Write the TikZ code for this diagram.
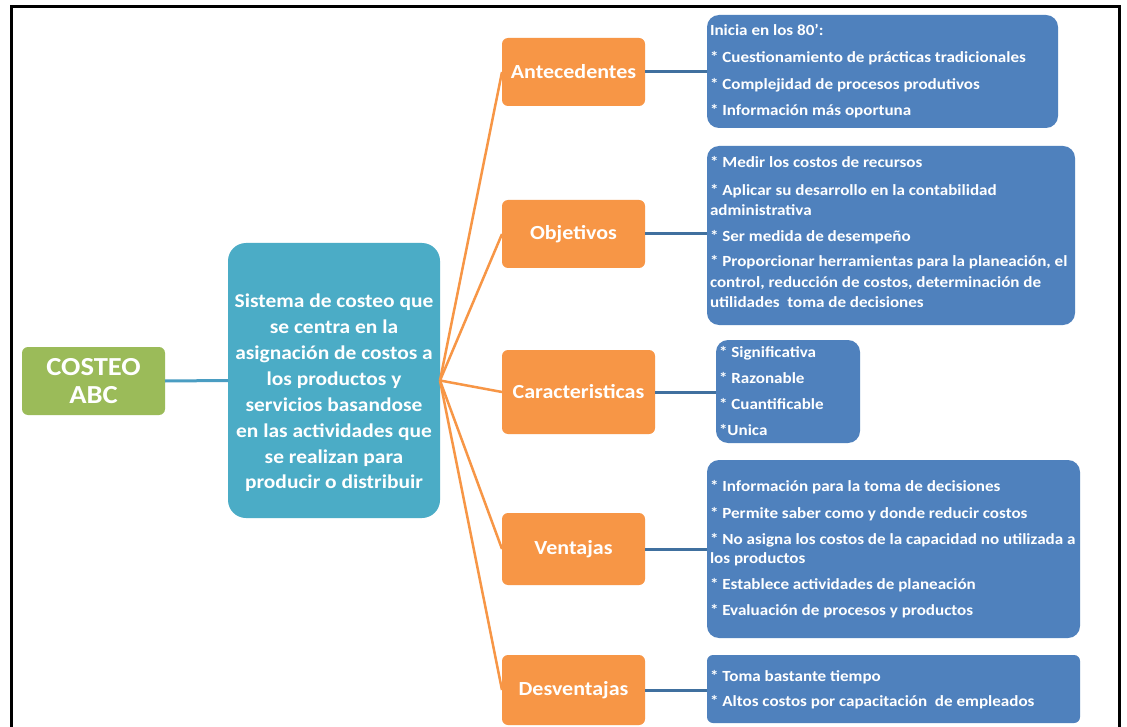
\documentclass[tikz,border=0pt]{standalone}
\usepackage{fontspec}
\setmainfont{Carlito}[FakeStretch=1.1]
\definecolor{cgreen}{HTML}{9BBB59}
\definecolor{cteal}{HTML}{4BACC6}
\definecolor{cteall}{HTML}{4A9DC2}
\definecolor{corange}{HTML}{F79646}
\definecolor{cblue}{HTML}{4F81BD}
\definecolor{cbluel}{HTML}{40709F}
\begin{document}
\begin{tikzpicture}[x=1pt,y=-1pt,
  every node/.style={inner sep=0pt, outer sep=0pt},
  rootbox/.style={fill=cgreen, rounded corners=6pt, text=white, align=center,
    font=\fontsize{26}{28}\selectfont\bfseries},
  defbox/.style={fill=cteal, rounded corners=18pt},
  deftext/.style={text=white, align=center, font=\fontsize{19.5}{25.9}\selectfont\bfseries},
  topicbox/.style={fill=corange, rounded corners=6pt, text=white,
    font=\fontsize{20}{22}\selectfont\bfseries},
  detailbox/.style={fill=cblue, rounded corners=12pt},
  detail/.style={text=white, anchor=base west, font=\fontsize{15.5}{18}\selectfont\bfseries},
  branch/.style={draw=corange, line width=2.5pt},
  link/.style={draw=cbluel, line width=3pt},
  rootlink/.style={draw=cteall, line width=3pt}
]
\useasboundingbox (0,0) rectangle (1127,727);
\fill[white] (0,0) rectangle (1127,727);
% frame
\draw[line width=3pt] (11.5,727) -- (11.5,7) -- (1119.5,7) -- (1119.5,727);

% root and definition
\node[rootbox, minimum width=143, minimum height=68] (root) at (93.5,381) {COSTEO\\ABC};
\node[defbox, minimum width=212, minimum height=275] (def) at (334,380.5) {};
\node[deftext] (deftxt) at (334,393) {Sistema de costeo que\\se centra en la\\asignaci\'on de costos a\\los productos y\\servicios basandose\\en las actividades que\\se realizan para\\producir o distribuir};

% topics
\node[topicbox, minimum width=143, minimum height=68] (ant) at (573.5,72) {Antecedentes};
\node[topicbox, minimum width=143, minimum height=68] (obj) at (573.5,234) {Objetivos};
\node[topicbox, minimum width=153, minimum height=84] (car) at (578.5,392) {Caracteristicas};
\node[topicbox, minimum width=143, minimum height=72] (ven) at (573.5,549) {Ventajas};
\node[topicbox, minimum width=143, minimum height=70] (des) at (573.5,690) {Desventajas};

% detail boxes
\node[detailbox, minimum width=351, minimum height=113] (antd) at (882.5,71.5) {};
\node[detailbox, minimum width=368, minimum height=179] (objd) at (891,235.5) {};
\node[detailbox, minimum width=144, minimum height=103] (card) at (788,391.5) {};
\node[detailbox, minimum width=373, minimum height=178] (vend) at (893.5,549) {};
\node[detailbox, minimum width=373, minimum height=68, rounded corners=6pt] (desd) at (893.5,689) {};

% connectors
\draw[rootlink] (root.east) -- (def.west);
\foreach \t in {ant,obj,car,ven,des}
  \draw[branch] (def.east) -- (\t.west);
\draw[link] (ant.east) -- (ant.east -| antd.west);
\draw[link] (obj.east) -- (obj.east -| objd.west);
\draw[link] (car.east) -- (car.east -| card.west);
\draw[link] (ven.east) -- (ven.east -| vend.west);
\draw[link] (des.east) -- (des.east -| desd.west);

% texts of the detail boxes
\node[detail] (a1) at (710,36) {Inicia en los 80':};
\node[detail] (a2) at (710,63) {* Cuestionamiento de pr\'acticas tradicionales};
\node[detail] (a3) at (710,90) {* Complejidad de procesos produtivos};
\node[detail] (a4) at (710,116) {* Informaci\'on m\'as oportuna};

\node[detail] (o1) at (710,168) {* Medir los costos de recursos};
\node[detail] (o2) at (710,196) {* Aplicar su desarrollo en la contabilidad};
\node[detail] (o3) at (710,216) {administrativa};
\node[detail] (o4) at (710,242) {* Ser medida de desempe\~no};
\node[detail] (o5) at (710,267) {* Proporcionar herramientas para la planeaci\'on, el};
\node[detail] (o6) at (710,288) {control, reducci\'on de costos, determinaci\'on de};
\node[detail] (o7) at (710,308) {utilidades\ \ toma de decisiones};

\node[detail] (c1) at (719,357) {* Significativa};
\node[detail] (c2) at (719,383) {* Razonable};
\node[detail] (c3) at (719,409) {* Cuantificable};
\node[detail] (c4) at (719,435) {*Unica};

\node[detail] (v1) at (710,491) {* Informaci\'on para la toma de decisiones};
\node[detail] (v2) at (710,518) {* Permite saber como y donde reducir costos};
\node[detail] (v3) at (710,544) {* No asigna los costos de la capacidad no utilizada a};
\node[detail] (v4) at (710,563) {los productos};
\node[detail] (v5) at (710,589) {* Establece actividades de planeaci\'on};
\node[detail] (v6) at (710,615) {* Evaluaci\'on de procesos y productos};

\node[detail] (d1) at (710,681) {* Toma bastante tiempo};
\node[detail] (d2) at (710,706) {* Altos costos por capacitaci\'on\ \ de empleados};
\end{tikzpicture}
\end{document}
